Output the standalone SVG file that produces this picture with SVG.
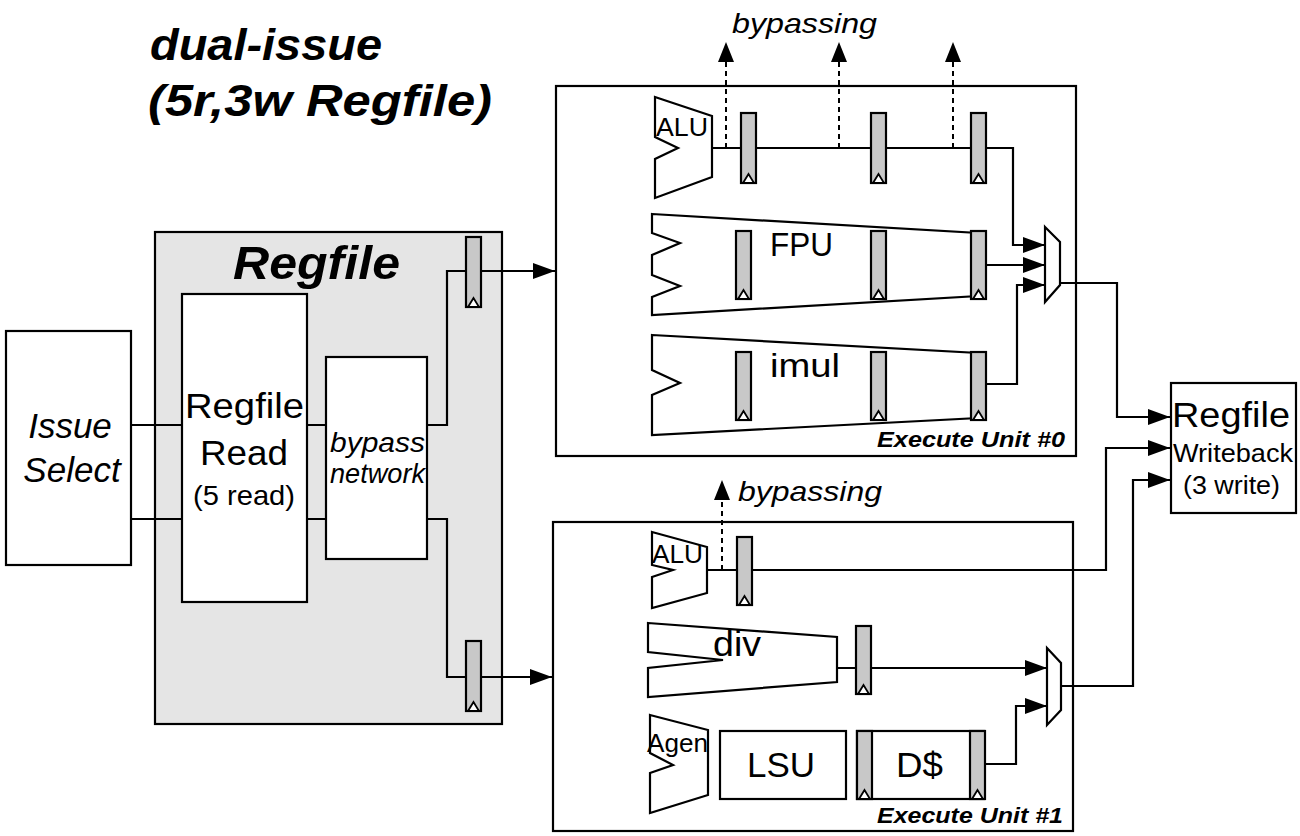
<svg xmlns="http://www.w3.org/2000/svg" xmlns:xlink="http://www.w3.org/1999/xlink" width="1300" height="836" viewBox="0 0 1300 836">
<style>
.box{fill:#fff;stroke:#000;stroke-width:2.2}
.cont{fill:none;stroke:#000;stroke-width:2.2}
.gray{fill:#e5e5e5;stroke:#000;stroke-width:2.2}
.shape{fill:#fff;stroke:#000;stroke-width:2.2;stroke-linejoin:miter}
.w{fill:none;stroke:#000;stroke-width:2.2}
.d{fill:none;stroke:#000;stroke-width:2;stroke-dasharray:5,4}
.t{font-family:"Liberation Sans",Arial,sans-serif;fill:#000}
.i{font-style:italic}
.bi{font-style:italic;font-weight:bold}
.rr{fill:#c8c8c8;stroke:#000;stroke-width:2.2}
.ck{fill:#fff;stroke:#000;stroke-width:1.8}
</style>
<defs>
<marker id="ah" viewBox="0 0 22 16" refX="22" refY="8" markerWidth="22" markerHeight="16" markerUnits="userSpaceOnUse" orient="auto">
<path d="M0,0 L22,8 L0,16 Z" fill="#000"/>
</marker>
<g id="reg68"><rect class="rr" x="0" y="0" width="15" height="68"/><path class="ck" d="M2,68 L7.5,59 L13,68 Z"/></g>
<g id="reg70"><rect class="rr" x="0" y="0" width="15" height="70"/><path class="ck" d="M2,70 L7.5,61 L13,70 Z"/></g>
</defs>

<g id="title">
<text class="t bi" x="150" y="60" font-size="44" textLength="232" lengthAdjust="spacingAndGlyphs">dual-issue</text>
<text class="t bi" x="148" y="116" font-size="44" textLength="344" lengthAdjust="spacingAndGlyphs">(5r,3w Regfile)</text>
</g>

<g id="issue-select">
<rect class="box" x="6" y="331" width="125" height="234"/>
<text class="t i" x="70" y="438" font-size="35" text-anchor="middle">Issue</text>
<text class="t i" x="72" y="482" font-size="35" text-anchor="middle">Select</text>
</g>

<g id="regfile">
<rect class="gray" x="155" y="232" width="347" height="492"/>
<text class="t bi" x="233" y="279" font-size="47" textLength="167" lengthAdjust="spacingAndGlyphs">Regfile</text>
</g>

<g id="regfile-read">
<rect class="box" x="182" y="294" width="125" height="308"/>
<text class="t" x="185" y="418" font-size="35" textLength="119" lengthAdjust="spacingAndGlyphs">Regfile</text>
<text class="t" x="200" y="465" font-size="35" textLength="88" lengthAdjust="spacingAndGlyphs">Read</text>
<text class="t" x="193" y="505" font-size="28" textLength="102" lengthAdjust="spacingAndGlyphs">(5 read)</text>
</g>

<g id="bypass-network">
<rect class="box" x="326" y="357" width="101" height="202"/>
<text class="t i" x="330" y="452" font-size="27" textLength="95" lengthAdjust="spacingAndGlyphs">bypass</text>
<text class="t i" x="330" y="483" font-size="27" textLength="95" lengthAdjust="spacingAndGlyphs">network</text>
</g>

<g id="execute-unit-0">
<rect class="cont" x="556" y="86" width="520" height="370"/>
<text class="t bi" x="877" y="447" font-size="22" textLength="188" lengthAdjust="spacingAndGlyphs">Execute Unit #0</text>
</g>

<g id="execute-unit-1">
<rect class="cont" x="553" y="522" width="520" height="309"/>
<text class="t bi" x="877" y="823" font-size="22" textLength="186" lengthAdjust="spacingAndGlyphs">Execute Unit #1</text>
</g>

<g id="regfile-writeback">
<rect class="box" x="1171" y="383" width="125" height="130"/>
<text class="t" x="1172" y="427" font-size="35" textLength="118" lengthAdjust="spacingAndGlyphs">Regfile</text>
<text class="t" x="1173" y="462" font-size="26" textLength="120" lengthAdjust="spacingAndGlyphs">Writeback</text>
<text class="t" x="1183" y="494" font-size="26" textLength="97" lengthAdjust="spacingAndGlyphs">(3 write)</text>
</g>

<g id="connectors">
<path class="w" d="M131,425 H182 M131,519 H182"/>
<path class="w" d="M307,425 H326 M307,519 H326"/>
<path class="w" d="M427,425 H447 V271 H555" marker-end="url(#ah)"/>
<path class="w" d="M427,519 H447 V677 H552" marker-end="url(#ah)"/>
<path class="w" d="M712,148 H1013 V245 H1045" marker-end="url(#ah)"/>
<path class="w" d="M978,265 H1045" marker-end="url(#ah)"/>
<path class="w" d="M978,384 H1017 V285 H1045" marker-end="url(#ah)"/>
<path class="w" d="M1060,283 H1117 V417 H1170" marker-end="url(#ah)"/>
<path class="w" d="M707,570 H1106 V448 H1170" marker-end="url(#ah)"/>
<path class="w" d="M837,668 H1047" marker-end="url(#ah)"/>
<path class="w" d="M984,764 H1016 V706 H1047" marker-end="url(#ah)"/>
<path class="w" d="M1061,686 H1133 V480 H1170" marker-end="url(#ah)"/>
<path class="d" d="M726,148 V50"/>
<path class="d" d="M839,148 V50"/>
<path class="d" d="M953,148 V50"/>
<path class="d" d="M722,570 V488"/>
<path fill="#000" d="M726,42 L734,62 L718,62 Z M839,42 L847,62 L831,62 Z M953,42 L961,62 L945,62 Z M722,480 L730,500 L714,500 Z"/>
</g>

<g id="bypassing-labels">
<text class="t i" x="732" y="33" font-size="28" textLength="145" lengthAdjust="spacingAndGlyphs">bypassing</text>
<text class="t i" x="738" y="501" font-size="28" textLength="144" lengthAdjust="spacingAndGlyphs">bypassing</text>
</g>

<g id="regfile-pipe-regs">
<use xlink:href="#reg70" x="466" y="237"/>
<use xlink:href="#reg70" x="466" y="641"/>
</g>

<g id="eu0-alu">
<polygon class="shape" points="655,97 712,116 712,177 655,198 655,159 678,148 655,137"/>
<text class="t" x="656" y="136" font-size="25" textLength="52" lengthAdjust="spacingAndGlyphs">ALU</text>
<use xlink:href="#reg70" x="741" y="113"/>
<use xlink:href="#reg70" x="871" y="113"/>
<use xlink:href="#reg70" x="971" y="113"/>
</g>

<g id="eu0-fpu">
<polygon class="shape" points="652,214 978,233 978,296 652,315 652,297 680,286 652,275 652,255 680,243 652,233"/>
<text class="t" x="770" y="256" font-size="33" textLength="63" lengthAdjust="spacingAndGlyphs">FPU</text>
<use xlink:href="#reg68" x="736" y="231"/>
<use xlink:href="#reg68" x="871" y="231"/>
<use xlink:href="#reg68" x="971" y="231"/>
</g>

<g id="eu0-imul">
<polygon class="shape" points="652,335 978,353 978,418 652,435 652,395 680,383 652,370"/>
<text class="t" x="770" y="377" font-size="34" textLength="70" lengthAdjust="spacingAndGlyphs">imul</text>
<use xlink:href="#reg68" x="736" y="352"/>
<use xlink:href="#reg68" x="871" y="352"/>
<use xlink:href="#reg68" x="971" y="352"/>
</g>

<g id="eu0-mux">
<polygon class="shape" points="1045,227 1060,242 1060,285 1045,302"/>
</g>

<g id="eu1-alu">
<polygon class="shape" points="652,532 707,547 707,593 652,608 652,577 673,570 652,565"/>
<text class="t" x="652" y="563" font-size="25" textLength="51" lengthAdjust="spacingAndGlyphs">ALU</text>
<use xlink:href="#reg68" x="737" y="537"/>
</g>

<g id="eu1-div">
<polygon class="shape" points="648,623 837,637 837,682 648,697 648,668 723,660 648,652"/>
<text class="t" x="713" y="656" font-size="35" textLength="48" lengthAdjust="spacingAndGlyphs">div</text>
<use xlink:href="#reg68" x="856" y="626"/>
</g>

<g id="eu1-agen">
<polygon class="shape" points="650,715 708,730 708,795 650,813 650,773 673,765 650,753"/>
<text class="t" x="647" y="752" font-size="25" textLength="61" lengthAdjust="spacingAndGlyphs">Agen</text>
</g>

<g id="eu1-lsu">
<rect class="box" x="720" y="731" width="126" height="68"/>
<text class="t" x="747" y="777" font-size="35" textLength="68" lengthAdjust="spacingAndGlyphs">LSU</text>
</g>

<g id="eu1-dcache">
<rect class="box" x="857" y="731" width="127" height="68"/>
<use xlink:href="#reg68" x="857" y="731"/>
<use xlink:href="#reg68" x="970" y="731"/>
<text class="t" x="896" y="777" font-size="35" textLength="47" lengthAdjust="spacingAndGlyphs">D$</text>
</g>

<g id="eu1-mux">
<polygon class="shape" points="1047,648 1061,663 1061,710 1047,725"/>
</g>
</svg>
